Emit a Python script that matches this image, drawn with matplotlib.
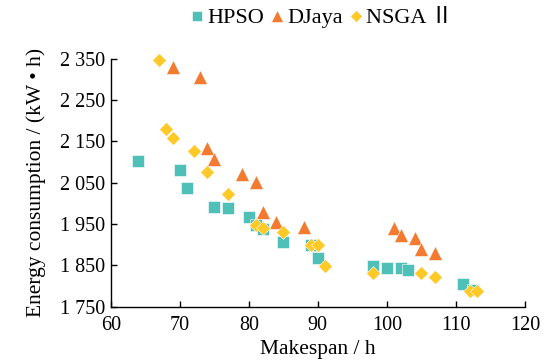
import matplotlib
matplotlib.use('Agg')
import matplotlib.pyplot as plt
from matplotlib.ticker import FuncFormatter

plt.rcParams['font.family'] = ['Liberation Serif', 'Noto Sans CJK SC', 'DejaVu Serif']

# данные
hpso_x = [64, 70, 71, 75, 77, 80, 81, 82, 85, 89, 90, 98, 100, 102, 103, 111, 112.5]
hpso_y = [2103, 2081, 2037, 1991, 1989, 1968, 1948, 1938, 1906, 1900, 1867, 1849, 1843, 1843, 1839, 1805, 1791]

djaya_x = [69, 73, 74, 75, 79, 81, 82, 84, 88, 101, 102, 104, 105, 107]
djaya_y = [2331, 2306, 2134, 2108, 2072, 2053, 1980, 1956, 1942, 1940, 1924, 1916, 1889, 1881]

nsga_x = [67, 68, 69, 72, 74, 77, 81, 82, 85, 89, 90, 91, 98, 105, 107, 112, 113]
nsga_y = [2348, 2180, 2158, 2127, 2076, 2023, 1948, 1940, 1932, 1900, 1900, 1849, 1831, 1831, 1821, 1789, 1789]

x_ticks = [60, 70, 80, 90, 100, 110, 120]
y_ticks = [1750, 1850, 1950, 2050, 2150, 2250, 2350]

fig = plt.figure(figsize=(5.48, 3.63), dpi=100)
ax = fig.add_axes([0.202, 0.155, 0.756, 0.683])

ax.plot(hpso_x, hpso_y, 's', ms=8.5, color='#4FC0B8', mec='white', mew=0.4,
        label='HPSO', clip_on=False, zorder=3)
ax.plot(djaya_x, djaya_y, '^', ms=10, color='#F37B31', mec='white', mew=0.4,
        label='DJaya', clip_on=False, zorder=3)
ax.plot(nsga_x, nsga_y, 'D', ms=7.5, color='#FFC928', mec='white', mew=0.4,
        label='NSGA Ⅱ', clip_on=False, zorder=4)

ax.set_xlim(60, 120)
ax.set_ylim(1750, 2350)
ax.set_xticks(x_ticks)
ax.set_yticks(y_ticks)
ax.yaxis.set_major_formatter(FuncFormatter(lambda v, p: '{:,}'.format(int(v)).replace(',', ' ')))

ax.spines['top'].set_visible(False)
ax.spines['right'].set_visible(False)
ax.spines['left'].set_linewidth(1.0)
ax.spines['bottom'].set_linewidth(1.0)
ax.tick_params(direction='in', length=4, width=1.0, labelsize=14.5)
ax.tick_params(axis='x', pad=7)
ax.tick_params(axis='y', pad=4)

ax.set_xlabel('Makespan / h', fontsize=15.5, labelpad=3)
ax.set_ylabel('Energy consumption / (kW • h)', fontsize=15.5, labelpad=10)

fig.legend(loc='center', bbox_to_anchor=(0.586, 0.95), ncol=3, frameon=False,
           fontsize=16, handlelength=0.7, handletextpad=0.1, columnspacing=0.25,
           markerscale=0.8, borderaxespad=0)

plt.savefig('out.png', dpi=100)
